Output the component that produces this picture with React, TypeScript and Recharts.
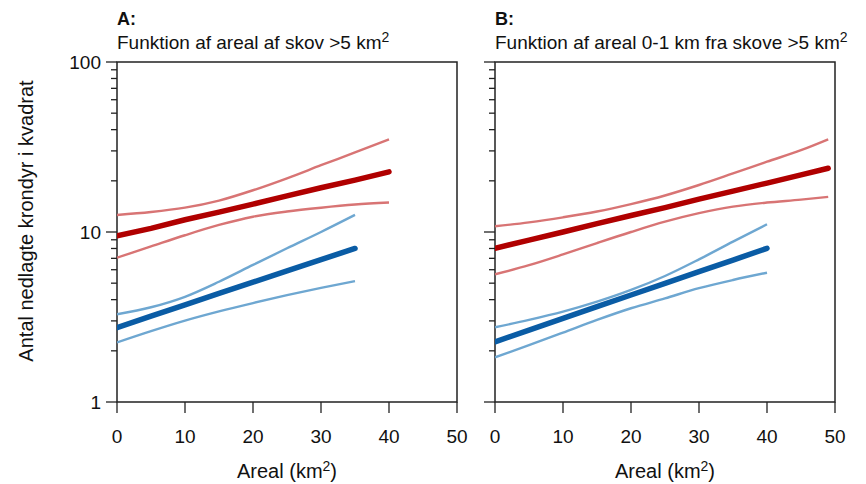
import React from 'react';
import { LineChart, Line, XAxis, YAxis, ReferenceArea } from 'recharts';

const xRedA = [0, 5, 10, 15, 20, 25, 30, 35, 40];
const xBlueA = [0, 5, 10, 15, 20, 25, 30, 35];
const xRedB = [0, 5, 10, 15, 20, 25, 30, 35, 40, 45, 49];
const xBlueB = [0, 5, 10, 15, 20, 25, 30, 35, 40];

// Panel A
const redFitA = [9.5, 10.5, 11.8, 13.1, 14.6, 16.3, 18.2, 20.2, 22.6];
const redHiA = [12.6, 13.1, 13.9, 15.3, 17.6, 20.7, 24.7, 29.4, 35.1];
const redLoA = [7.06, 8.22, 9.57, 11.0, 12.3, 13.2, 13.9, 14.5, 14.9];
const blueFitA = [2.74, 3.2, 3.73, 4.35, 5.07, 5.9, 6.88, 8.0];
const blueHiA = [3.28, 3.61, 4.16, 5.1, 6.4, 8.02, 10.0, 12.6];
const blueLoA = [2.24, 2.61, 3.01, 3.41, 3.82, 4.25, 4.69, 5.14];

// Panel B
const redFitB = [8.02, 8.96, 10.0, 11.2, 12.5, 13.9, 15.6, 17.4, 19.4, 21.7, 23.7];
const redHiB = [10.8, 11.4, 12.2, 13.2, 14.6, 16.4, 18.9, 22.1, 25.9, 30.3, 35.1];
const redLoB = [5.64, 6.38, 7.38, 8.61, 10.0, 11.5, 12.9, 14.1, 14.9, 15.5, 16.1];
const blueFitB = [2.26, 2.65, 3.1, 3.64, 4.26, 4.99, 5.85, 6.84, 8.02];
const blueHiB = [2.75, 3.04, 3.4, 3.89, 4.56, 5.51, 6.9, 8.77, 11.1];
const blueLoB = [1.83, 2.16, 2.56, 3.04, 3.56, 4.07, 4.67, 5.22, 5.76];

const yTicks = [1, 2, 3, 4, 5, 6, 7, 8, 9, 10, 20, 30, 40, 50, 60, 70, 80, 90, 100];
const yMajor = [1, 10, 100];
const xTicks = [0, 10, 20, 30, 40, 50];

const RED = '#b00000';
const RED_CI = '#d87474';
const BLUE = '#0a5ca5';
const BLUE_CI = '#6ea7d1';
const AXIS = '#222';
const FONT = '"Liberation Sans", Arial, Helvetica, sans-serif';

const rows = (xs: number[], ys: number[]) => xs.map((x, i) => ({ x, y: ys[i] }));

const YTick = (props: any) => {
  const { x, y, payload, showLabel } = props;
  const major = yMajor.includes(payload.value);
  return (
    <g>
      <line x1={x - (major ? 11 : 6)} x2={x} y1={y} y2={y} stroke={AXIS} strokeWidth={1.3} />
      {major && showLabel && (
        <text x={x - 16} y={y + 7} textAnchor="end" fontSize={19} fill="#111" fontFamily={FONT}>
          {payload.value}
        </text>
      )}
    </g>
  );
};

const XTick = (props: any) => {
  const { x, y, payload } = props;
  return (
    <g>
      <line x1={x} x2={x} y1={y} y2={y + 11} stroke={AXIS} strokeWidth={1.3} />
      <text x={x} y={y + 41} textAnchor="middle" fontSize={19} fill="#111" fontFamily={FONT}>
        {payload.value}
      </text>
    </g>
  );
};

interface PanelProps {
  yAxisWidth: number;
  showYLabels: boolean;
  xRed: number[];
  xBlue: number[];
  red: number[][];
  blue: number[][];
}

const W = 866;
const H = 484;

const Panel = ({ yAxisWidth, showYLabels, xRed, xBlue, red, blue }: PanelProps) => (
  <div style={{ position: 'absolute', left: 0, top: 0 }}>
    <LineChart width={W} height={H} margin={{ top: 62, right: W - yAxisWidth - 340, bottom: 0, left: 0 }}>
      <XAxis
        type="number"
        dataKey="x"
        domain={[0, 50]}
        ticks={xTicks}
        height={82}
        axisLine={false}
        tickLine={false}
        tickSize={0}
        tickMargin={0}
        tick={<XTick />}
        allowDataOverflow
      />
      <YAxis
        type="number"
        scale="log"
        domain={[1, 100]}
        ticks={yTicks}
        interval={0}
        width={yAxisWidth}
        axisLine={false}
        tickLine={false}
        tickSize={0}
        tickMargin={0}
        tick={<YTick showLabel={showYLabels} />}
        allowDataOverflow
      />
      <ReferenceArea x1={0} x2={50} y1={1} y2={100} fill="none" stroke={AXIS} strokeWidth={1.5} ifOverflow="visible" />
      <Line data={rows(xRed, red[1])} dataKey="y" type="monotone" stroke={RED_CI} strokeWidth={2.4} dot={false} isAnimationActive={false} />
      <Line data={rows(xRed, red[2])} dataKey="y" type="monotone" stroke={RED_CI} strokeWidth={2.4} dot={false} isAnimationActive={false} />
      <Line data={rows(xBlue, blue[1])} dataKey="y" type="monotone" stroke={BLUE_CI} strokeWidth={2.4} dot={false} isAnimationActive={false} />
      <Line data={rows(xBlue, blue[2])} dataKey="y" type="monotone" stroke={BLUE_CI} strokeWidth={2.4} dot={false} isAnimationActive={false} />
      <Line data={rows(xRed, red[0])} dataKey="y" type="linear" stroke={RED} strokeWidth={5.5} strokeLinecap="round" dot={false} isAnimationActive={false} />
      <Line data={rows(xBlue, blue[0])} dataKey="y" type="linear" stroke={BLUE} strokeWidth={5.5} strokeLinecap="round" dot={false} isAnimationActive={false} />
    </LineChart>
  </div>
);

const Titles = () => (
  <svg width={W} height={H} style={{ position: 'absolute', left: 0, top: 0, pointerEvents: 'none' }} fontFamily={FONT} fill="#111">
    <text x={117} y={25} fontSize={18} fontWeight="bold">A:</text>
    <text x={117} y={49} fontSize={19}>
      Funktion af areal af skov &gt;5 km<tspan fontSize={14} dy={-7}>2</tspan>
    </text>
    <text x={495} y={25} fontSize={18} fontWeight="bold">B:</text>
    <text x={495} y={49} fontSize={19}>
      Funktion af areal 0-1 km fra skove &gt;5 km<tspan fontSize={14} dy={-7}>2</tspan>
    </text>
    <text transform="translate(33,221) rotate(-90)" textAnchor="middle" fontSize={20}>
      Antal nedlagte krondyr i kvadrat
    </text>
    <text x={287} y={478} textAnchor="middle" fontSize={20}>
      Areal (km<tspan fontSize={14} dy={-7}>2</tspan><tspan dy={7}>)</tspan>
    </text>
    <text x={665} y={478} textAnchor="middle" fontSize={20}>
      Areal (km<tspan fontSize={14} dy={-7}>2</tspan><tspan dy={7}>)</tspan>
    </text>
  </svg>
);

export default function App() {
  return (
    <div style={{ position: 'absolute', left: 0, top: 0, width: W, height: H, background: '#fff', fontFamily: FONT }}>
      <Panel
        yAxisWidth={117}
        showYLabels
        xRed={xRedA}
        xBlue={xBlueA}
        red={[redFitA, redHiA, redLoA]}
        blue={[blueFitA, blueHiA, blueLoA]}
      />
      <Panel
        yAxisWidth={495}
        showYLabels={false}
        xRed={xRedB}
        xBlue={xBlueB}
        red={[redFitB, redHiB, redLoB]}
        blue={[blueFitB, blueHiB, blueLoB]}
      />
      <Titles />
    </div>
  );
}
